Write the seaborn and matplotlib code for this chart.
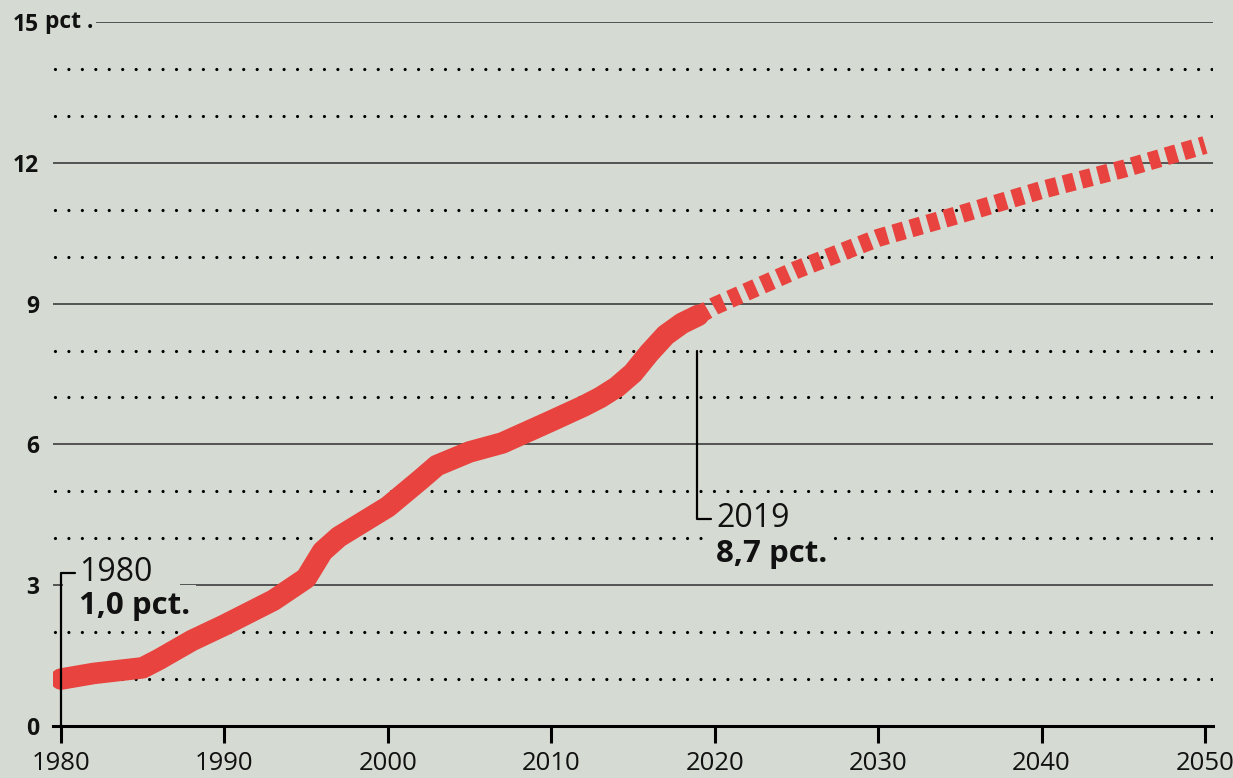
import matplotlib
matplotlib.use('Agg')
import matplotlib.pyplot as plt
from matplotlib.patches import Rectangle
import seaborn as sns
import pandas as pd

BG = '#d5dbd2'
RED = '#e8433e'

# historical share (pct.)
hist_years = [1980, 1982, 1985, 1986, 1988, 1990, 1993, 1995, 1996, 1997, 2000,
              2002, 2003, 2005, 2007, 2010, 2012, 2013, 2014, 2015, 2016, 2017,
              2018, 2019]
hist_vals = [1.0, 1.12, 1.24, 1.42, 1.82, 2.15, 2.68, 3.15, 3.72, 4.03, 4.67,
             5.25, 5.55, 5.84, 6.03, 6.5, 6.82, 7.0, 7.22, 7.52, 7.95, 8.33,
             8.58, 8.75]

# projection
proj_years = [2019, 2020, 2025, 2030, 2035, 2040, 2045, 2050]
proj_vals = [8.75, 8.95, 9.72, 10.4, 10.9, 11.42, 11.87, 12.38]

solid_ticks = [0, 3, 6, 9, 12, 15]
dotted_levels = [1, 2, 4, 5, 7, 8, 10, 11, 13, 14]
x_ticks = [1980, 1990, 2000, 2010, 2020, 2030, 2040, 2050]


def main():
    sns.set_theme(style='white')
    plt.rcParams['font.family'] = ['Open Sans', 'DejaVu Sans']

    hist = pd.DataFrame({'year': hist_years, 'pct': hist_vals})
    proj = pd.DataFrame({'year': proj_years, 'pct': proj_vals})

    fig = plt.figure(figsize=(12.33, 7.78), dpi=100, facecolor=BG)
    ax = fig.add_axes([53 / 1233, 52 / 778, 1160 / 1233, 704 / 778])
    ax.set_facecolor(BG)

    # grid
    for lv in solid_ticks[1:]:
        ax.axhline(lv, color='#3c3c3c', lw=1.2, zorder=1)
    for lv in dotted_levels:
        ax.axhline(lv, color='black', lw=2.3, linestyle=(3.6, (0.01, 4.2)),
                   dash_capstyle='round', zorder=1)

    # mask behind the 1980 callout
    ax.add_patch(Rectangle((1980.1, 2.85), 7.2, 0.3, fc=BG, ec='none', zorder=2))

    sns.lineplot(data=proj, x='year', y='pct', ax=ax, color=RED, lw=13,
                 linestyle=(0, (0.6, 0.38)), dash_capstyle='butt', zorder=3)
    sns.lineplot(data=hist, x='year', y='pct', ax=ax, color=RED, lw=15.5,
                 solid_capstyle='round', solid_joinstyle='round', zorder=4)

    ax.set_xlim(1979.51, 2050.49)
    ax.set_ylim(0, 15)
    for s in ['top', 'right', 'left']:
        ax.spines[s].set_visible(False)
    ax.spines['bottom'].set_color('black')
    ax.spines['bottom'].set_linewidth(2.2)
    ax.spines['bottom'].set_zorder(5)

    ax.set_xticks(x_ticks)
    ax.set_xticklabels([str(x) for x in x_ticks], fontsize=18.5)
    ax.tick_params(axis='x', direction='out', length=12, width=2.2,
                   color='black', pad=6, labelcolor='#111111', bottom=True)
    ax.set_yticks(solid_ticks)
    ax.set_yticklabels([str(v) for v in solid_ticks], fontsize=16.5,
                       fontweight='bold')
    ax.tick_params(axis='y', length=0, pad=10, labelcolor='#111111')
    ax.set_xlabel('')
    ax.set_ylabel('')

    ax.annotate('pct .', xy=(0, 15), xycoords=('axes fraction', 'data'),
                xytext=(-6, 0), textcoords='offset points', ha='left',
                va='center', fontsize=16.5, fontweight='bold', color='#111111',
                bbox=dict(boxstyle='square,pad=0.15', fc=BG, ec='none'),
                zorder=6, annotation_clip=False)

    # 1980 callout
    ax.plot([1980, 1980, 1980.85], [0, 3.26, 3.26], color='black', lw=1.6,
            zorder=5, clip_on=False)
    ax.text(1981.1, 3.26, '1980', fontsize=23, color='#111111',
            ha='left', va='center', zorder=6)
    ax.text(1981.1, 2.56, '1,0 pct.', fontsize=22.5, fontweight='bold',
            color='#111111', ha='left', va='center', zorder=6,
            bbox=dict(boxstyle='square,pad=0.2', fc=BG, ec='none'))

    # 2019 callout
    ax.plot([2018.9, 2018.9, 2019.75], [8.0, 4.42, 4.42], color='black',
            lw=1.6, zorder=5)
    ax.text(2020.1, 4.42, '2019', fontsize=23, color='#111111',
            ha='left', va='center', zorder=6)
    ax.text(2020.1, 3.66, '8,7 pct.', fontsize=22.5, fontweight='bold',
            color='#111111', ha='left', va='center', zorder=6,
            bbox=dict(boxstyle='square,pad=0.2', fc=BG, ec='none'))

    fig.savefig('out.png', dpi=100, facecolor=BG)
    plt.close(fig)


if __name__ == '__main__':
    main()
